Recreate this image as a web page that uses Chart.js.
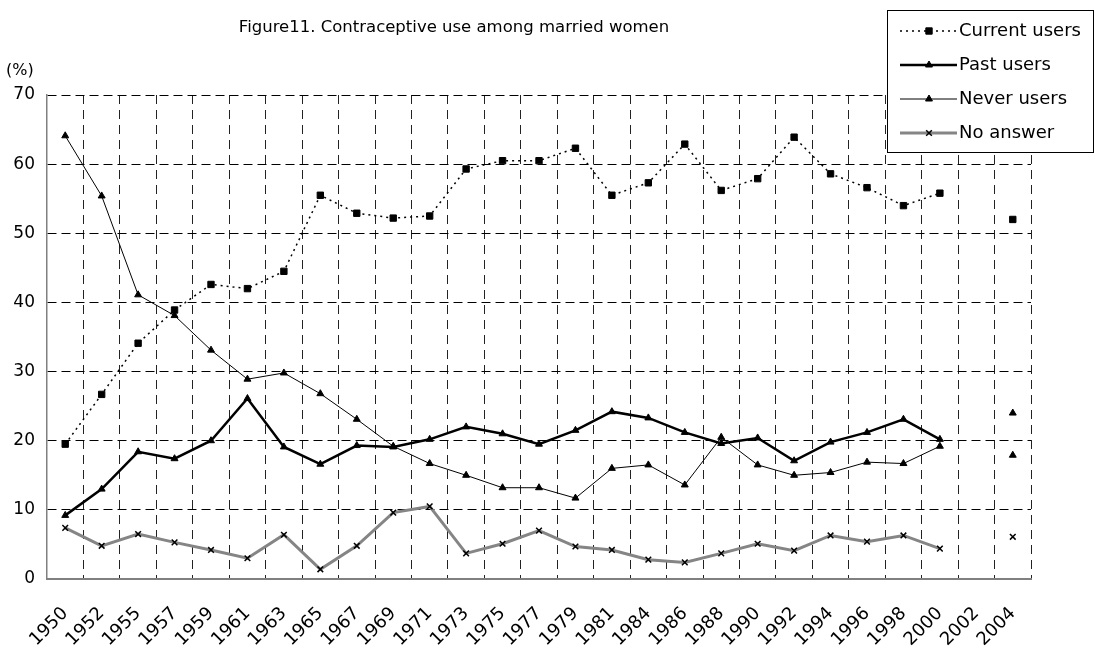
<!DOCTYPE html>
<html>
<head>
<meta charset="utf-8">
<script src="https://cdn.jsdelivr.net/npm/chart.js@4"></script>
<style>
body { margin: 0; background: #fff; }
</style>
</head>
<body>
<canvas id="chart" width="1095" height="648"></canvas>
<script>
// data
const years = ['1950','1952','1955','1957','1959','1961','1963','1965','1967','1969','1971','1973','1975','1977','1979','1981','1984','1986','1988','1990','1992','1994','1996','1998','2000','2002','2004'];
const currentUsers = [19.5,26.7,34.1,38.9,42.6,42.0,44.5,55.5,52.9,52.2,52.5,59.3,60.5,60.5,62.3,55.5,57.3,62.9,56.2,57.9,63.9,58.6,56.6,54.0,55.8,null,52.0];
const pastUsers = [9.2,13.0,18.4,17.4,20.0,26.1,19.1,16.6,19.3,19.1,20.2,22.0,21.0,19.5,21.5,24.2,23.3,21.2,19.6,20.4,17.1,19.8,21.2,23.1,20.2,null,24.0];
const neverUsers = [64.1,55.4,41.1,38.1,33.1,28.9,29.8,26.8,23.1,19.2,16.7,15.0,13.2,13.2,11.7,16.0,16.5,13.6,20.5,16.5,15.0,15.4,16.9,16.7,19.2,null,17.9];
const noAnswer = [7.4,4.8,6.5,5.3,4.2,3.0,6.4,1.4,4.8,9.6,10.5,3.7,5.1,7.0,4.7,4.2,2.8,2.4,3.7,5.1,4.1,6.3,5.4,6.3,4.4,null,6.1];
const seriesNames = ['Current users','Past users','Never users','No answer'];
const yMin = 0, yMax = 70, yStep = 10;

const FONT = '"DejaVu Sans", sans-serif';

const legendAndTitle = {
  id: 'legendAndTitle',
  afterDraw(chart) {
    const c = chart.ctx;
    c.save();
    c.fillStyle = '#000';
    c.font = '16.5px ' + FONT;
    c.textAlign = 'center';
    c.textBaseline = 'middle';
    c.fillText('Figure11. Contraceptive use among married women', 454, 28);
    c.font = '16px ' + FONT;
    c.textAlign = 'left';
    c.fillText('(%)', 6, 71);

    // legend box
    c.fillStyle = '#fff';
    c.fillRect(887.5, 10.5, 206, 142);
    c.strokeStyle = '#000';
    c.lineWidth = 1;
    c.strokeRect(887.5, 10.5, 206, 142);
    const rows = [31, 65, 99, 133];
    chart.data.datasets.forEach((ds, i) => {
      const y = rows[i];
      c.save();
      c.strokeStyle = ds.borderColor;
      c.lineWidth = ds.borderWidth;
      c.setLineDash(ds.borderDash || []);
      c.beginPath();
      c.moveTo(900, y);
      c.lineTo(957, y);
      c.stroke();
      c.restore();
      c.save();
      c.fillStyle = ds.pointBackgroundColor;
      c.strokeStyle = ds.pointBorderColor;
      c.lineWidth = ds.pointBorderWidth;
      Chart.helpers.drawPoint(c, {
        pointStyle: ds.pointStyle,
        radius: ds.pointRadius,
        borderWidth: ds.pointBorderWidth
      }, 929, y);
      c.restore();
      c.fillStyle = '#000';
      c.font = '18px ' + FONT;
      c.textAlign = 'left';
      c.textBaseline = 'middle';
      c.fillText(ds.label, 959, y);
    });
    c.restore();
  }
};

const ctx = document.getElementById('chart').getContext('2d');
const myChart = new Chart(ctx, {
  type: 'line',
  data: {
    labels: years,
    datasets: [{
      label: seriesNames[0],
      data: currentUsers,
      borderColor: '#000',
      borderWidth: 1.5,
      borderDash: [2, 4],
      pointStyle: 'rect',
      pointRadius: 4.5,
      pointBackgroundColor: '#000',
      pointBorderColor: '#000',
      pointBorderWidth: 1,
      tension: 0
    }, {
      label: seriesNames[1],
      data: pastUsers,
      borderColor: '#000',
      borderWidth: 2.5,
      pointStyle: 'triangle',
      pointRadius: 4,
      pointBackgroundColor: '#000',
      pointBorderColor: '#000',
      pointBorderWidth: 1,
      tension: 0
    }, {
      label: seriesNames[2],
      data: neverUsers,
      borderColor: '#000',
      borderWidth: 1,
      pointStyle: 'triangle',
      pointRadius: 4,
      pointBackgroundColor: '#000',
      pointBorderColor: '#000',
      pointBorderWidth: 1,
      tension: 0
    }, {
      label: seriesNames[3],
      data: noAnswer,
      borderColor: '#858585',
      borderWidth: 3,
      pointStyle: 'crossRot',
      pointRadius: 4,
      pointBackgroundColor: '#000',
      pointBorderColor: '#000',
      pointBorderWidth: 1.5,
      tension: 0
    }]
  },
  options: {
    responsive: false,
    animation: false,
    spanGaps: false,
    layout: { padding: { top: 95, right: 64, left: 0, bottom: 0 } },
    plugins: {
      legend: { display: false },
      title: { display: false },
      tooltip: { enabled: false }
    },
    scales: {
      x: {
        offset: true,
        grid: {
          offset: true,
          color: c => c.index === 0 ? 'rgba(0,0,0,0)' : '#222',
          lineWidth: 1,
          drawTicks: false
        },
        border: { display: true, color: '#808080', width: 2, dash: [9, 6] },
        ticks: {
          autoSkip: false,
          minRotation: 45,
          maxRotation: 45,
          padding: 24,
          color: '#000',
          font: { family: FONT, size: 18 }
        },
        afterFit: s => { s.height = 69; }
      },
      y: {
        min: yMin,
        max: yMax,
        grid: {
          color: c => c.index === 0 ? 'rgba(0,0,0,0)' : '#000',
          lineWidth: 1,
          drawTicks: false
        },
        border: { display: true, color: '#808080', width: 1.5, dash: [9, 5] },
        ticks: {
          stepSize: yStep,
          padding: 12,
          color: '#000',
          font: { family: FONT, size: 17 }
        },
        afterFit: s => { s.width = 47; }
      }
    }
  },
  plugins: [legendAndTitle]
});
</script>
</body>
</html>
